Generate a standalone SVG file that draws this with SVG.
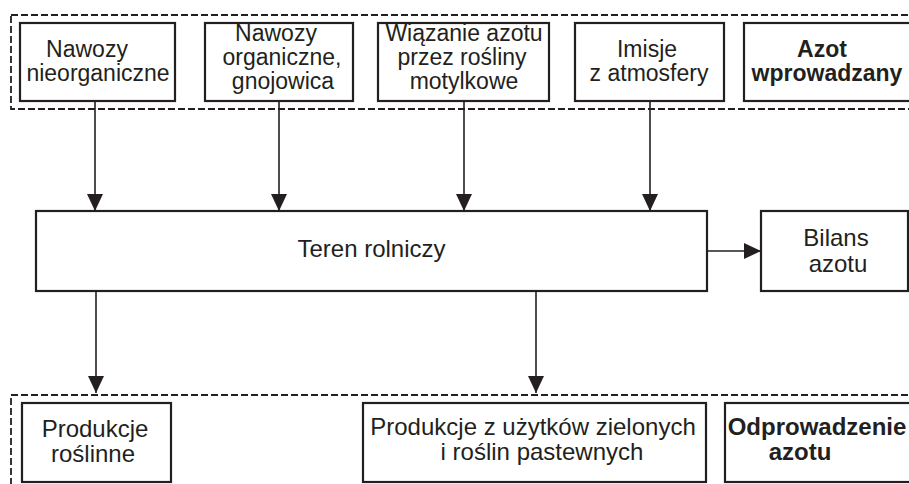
<svg xmlns="http://www.w3.org/2000/svg" width="909" height="484" viewBox="0 0 909 484">
<style>
.box{fill:#fff;stroke:#231f20;stroke-width:2.2}
.grp{fill:none;stroke:#231f20;stroke-width:1.8;stroke-dasharray:7 3}
.t{font-family:"Liberation Sans",Arial,sans-serif;font-size:24px;fill:#231f20;text-anchor:middle}
.s{font-size:23px}
.b{font-weight:bold}
.c{fill:none;stroke:#231f20;stroke-width:1.6}
</style>
<defs>
<marker id="ah" markerUnits="userSpaceOnUse" markerWidth="18" markerHeight="18" refX="17" refY="8" orient="auto">
<path d="M0,0 L17,8 L0,16 Z" fill="#231f20"/>
</marker>
</defs>
<rect class="grp" x="11" y="15" width="915" height="94"/>
<rect class="grp" x="11" y="395" width="915" height="110"/>
<g id="n1"><rect class="box" x="20" y="23" width="155" height="78"/>
<text class="t s"><tspan x="87" y="57">Nawozy</tspan><tspan x="98" y="81">nieorganiczne</tspan></text></g>
<g id="n2"><rect class="box" x="205" y="23" width="148" height="78"/>
<text class="t s"><tspan x="276" y="41">Nawozy</tspan><tspan x="282" y="65">organiczne,</tspan><tspan x="283" y="89">gnojowica</tspan></text></g>
<g id="n3"><rect class="box" x="378" y="23" width="171" height="78"/>
<text class="t s"><tspan x="464" y="41">Wiązanie azotu</tspan><tspan x="462" y="65">przez rośliny</tspan><tspan x="464" y="89">motylkowe</tspan></text></g>
<g id="n4"><rect class="box" x="575" y="23" width="149" height="78"/>
<text class="t s"><tspan x="647" y="57">Imisje</tspan><tspan x="649" y="81">z atmosfery</tspan></text></g>
<g id="n5"><rect class="box" x="744" y="23" width="180" height="78"/>
<text class="t s b"><tspan x="822" y="57">Azot</tspan><tspan x="827" y="81">wprowadzany</tspan></text></g>
<g id="main"><rect class="box" x="36" y="211" width="671" height="80"/>
<text class="t" x="371.5" y="257">Teren rolniczy</text></g>
<g id="bilans"><rect class="box" x="761" y="211" width="147" height="80"/>
<text class="t"><tspan x="836" y="246">Bilans</tspan><tspan x="838" y="272">azotu</tspan></text></g>
<g id="o1"><rect class="box" x="22" y="403" width="149" height="79"/>
<text class="t"><tspan x="95" y="437">Produkcje</tspan><tspan x="93" y="462">roślinne</tspan></text></g>
<g id="o2"><rect class="box" x="363" y="403" width="343" height="79"/>
<text class="t"><tspan x="533" y="435">Produkcje z użytków zielonych</tspan><tspan x="542" y="460">i roślin pastewnych</tspan></text></g>
<g id="o3"><rect class="box" x="725" y="403" width="200" height="79"/>
<text class="t b"><tspan x="817" y="435">Odprowadzenie</tspan><tspan x="800" y="460">azotu</tspan></text></g>
<g id="connectors">
<line class="c" x1="95" y1="101" x2="95" y2="211" marker-end="url(#ah)"/>
<line class="c" x1="279" y1="101" x2="279" y2="211" marker-end="url(#ah)"/>
<line class="c" x1="464" y1="101" x2="464" y2="211" marker-end="url(#ah)"/>
<line class="c" x1="650" y1="101" x2="650" y2="211" marker-end="url(#ah)"/>
<line class="c" x1="707" y1="251" x2="761" y2="251" marker-end="url(#ah)"/>
<line class="c" x1="96" y1="291" x2="96" y2="393" marker-end="url(#ah)"/>
<line class="c" x1="536" y1="291" x2="536" y2="393" marker-end="url(#ah)"/>
</g>
</svg>
